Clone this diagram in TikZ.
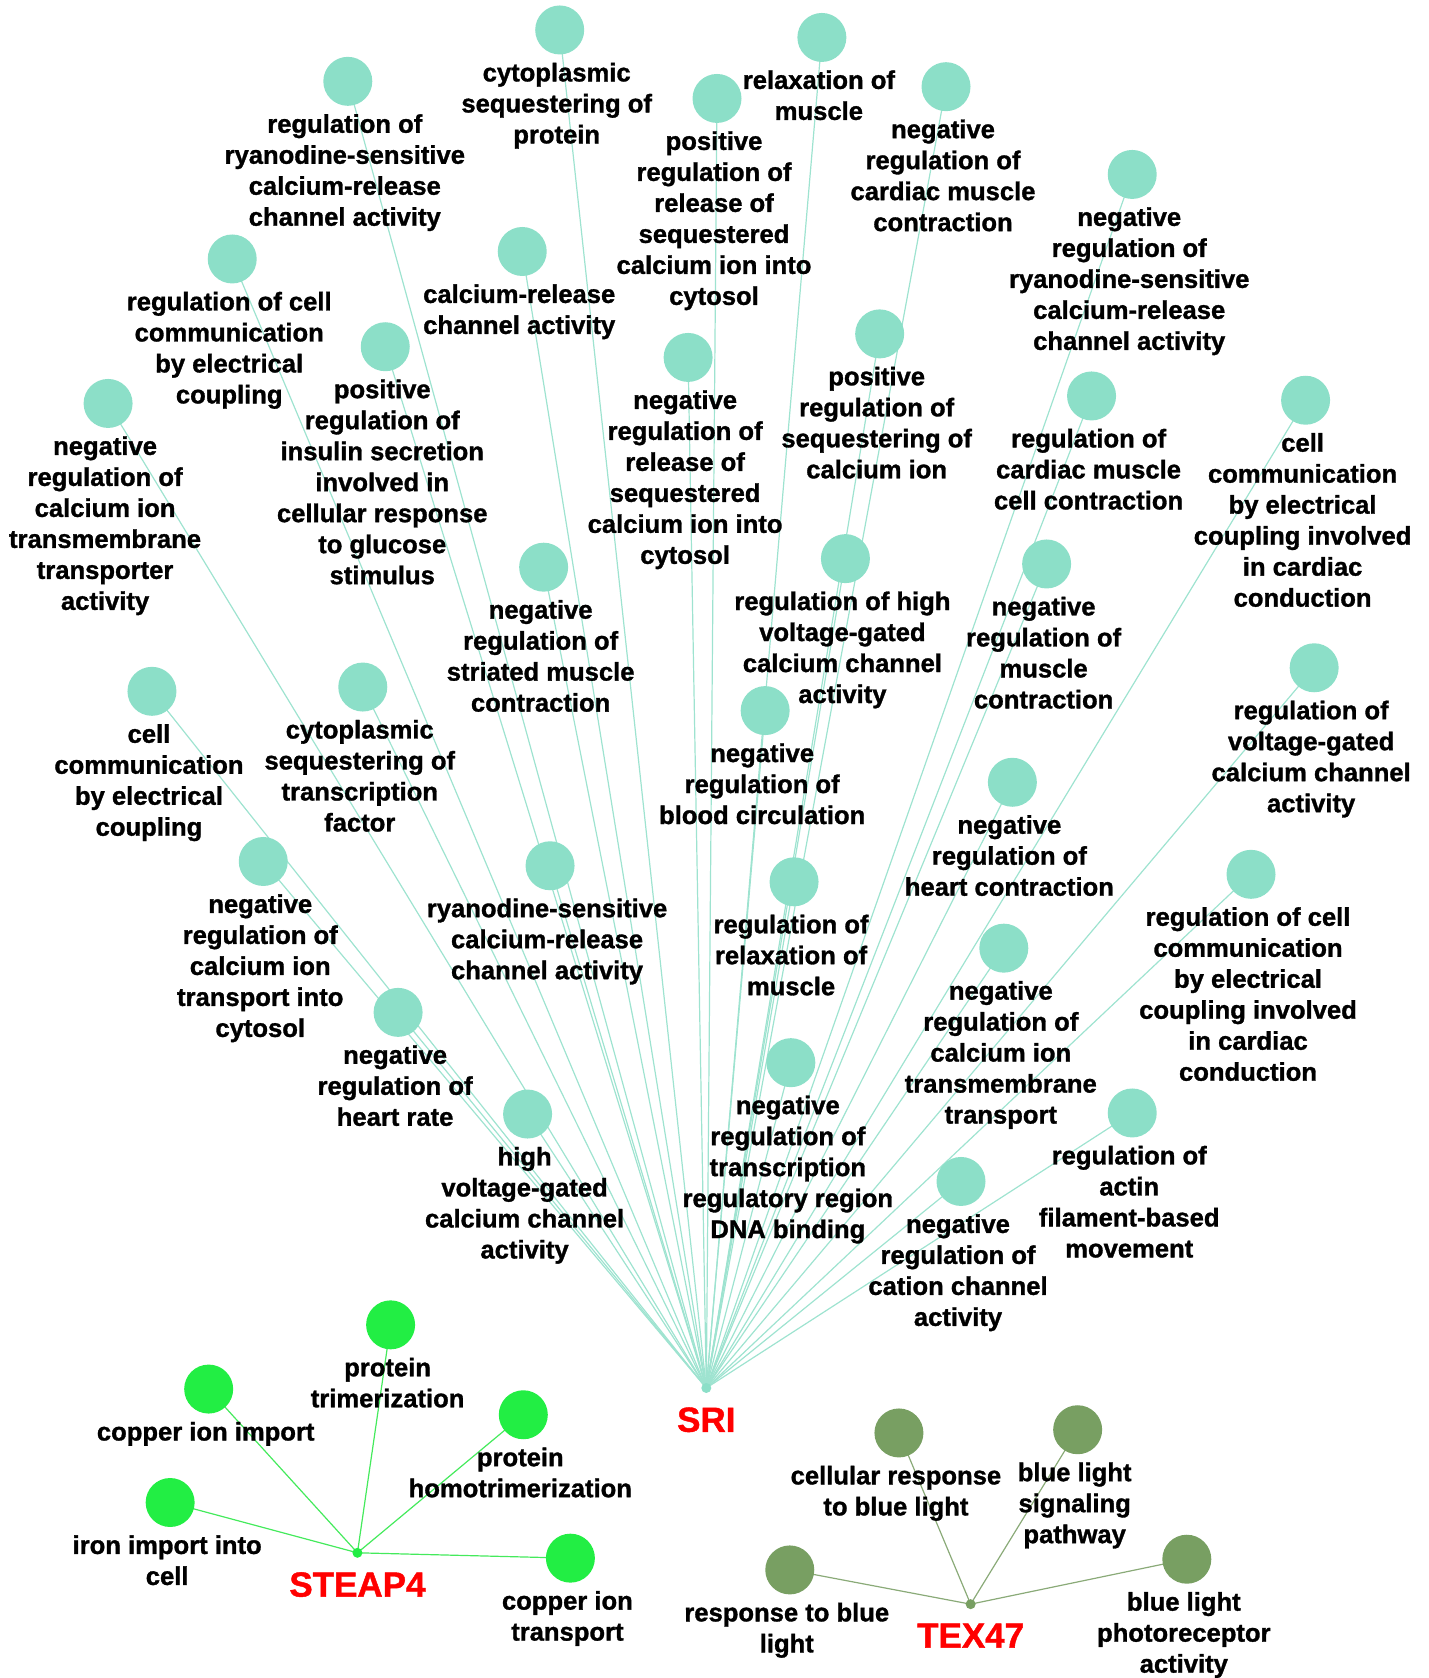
\documentclass[tikz,border=0pt]{standalone}
\usepackage{fontspec}
\setmainfont[BoldFeatures={FakeBold=1.2}]{Liberation Sans}
\usepackage{tikz}
\usetikzlibrary{positioning}
\definecolor{sritone}{HTML}{8CDFC8}
\definecolor{sriedge}{HTML}{9EE3D0}
\definecolor{steaptone}{HTML}{22EE44}
\definecolor{steapedge}{HTML}{44EA5C}
\definecolor{textone}{HTML}{789F62}
\definecolor{texedge}{HTML}{8AAA78}
\pgfdeclarelayer{background}
\pgfsetlayers{background,main}
\tikzstyle{term}=[circle, inner sep=0pt, minimum size=49pt]
\tikzstyle{hub}=[circle, inner sep=0pt, minimum size=10pt]
\tikzstyle{lbl}=[inner sep=0pt, xshift=-3pt, align=center, font=\bfseries\fontsize{25.6}{31}\selectfont]
\tikzstyle{gene}=[inner sep=0pt, text=red, font=\bfseries\fontsize{35}{40}\selectfont]

\begin{document}
\begin{tikzpicture}[x=1.0704pt, y=-1.0704pt]
        \useasboundingbox (0, 0) rectangle (1335, 1568);

        % hubs
        \node [hub, fill=sritone] (sri) at (660, 1297) {};
        \node [gene, below=14pt of sri] (srilbl) {SRI};
        \node [hub, fill=steaptone] (steap) at (334, 1451) {};
        \node [gene, below=14pt of steap] (steaplbl) {STEAP4};
        \node [hub, fill=textone] (tex) at (907, 1499) {};
        \node [gene, below=14pt of tex] (texlbl) {TEX47};

        % SRI terms
        \node [term, fill=sritone] (c1) at (523, 28) {};
        \node [lbl, below=8pt of c1] (t1) {cytoplasmic\\sequestering of\\protein};
        \node [term, fill=sritone] (c2) at (768, 35) {};
        \node [lbl, below=8pt of c2] (t2) {relaxation of\\muscle};
        \node [term, fill=sritone] (c3) at (325, 76) {};
        \node [lbl, below=8pt of c3] (t3) {regulation of\\ryanodine-sensitive\\calcium-release\\channel activity};
        \node [term, fill=sritone] (c4) at (670, 92) {};
        \node [lbl, below=8pt of c4] (t4) {positive\\regulation of\\release of\\sequestered\\calcium ion into\\cytosol};
        \node [term, fill=sritone] (c5) at (884, 81) {};
        \node [lbl, below=8pt of c5] (t5) {negative\\regulation of\\cardiac muscle\\contraction};
        \node [term, fill=sritone] (c6) at (1058, 163) {};
        \node [lbl, below=8pt of c6] (t6) {negative\\regulation of\\ryanodine-sensitive\\calcium-release\\channel activity};
        \node [term, fill=sritone] (c7) at (217, 242) {};
        \node [lbl, below=8pt of c7] (t7) {regulation of cell\\communication\\by electrical\\coupling};
        \node [term, fill=sritone] (c8) at (488, 235) {};
        \node [lbl, below=8pt of c8] (t8) {calcium-release\\channel activity};
        \node [term, fill=sritone] (c9) at (360, 324) {};
        \node [lbl, below=8pt of c9] (t9) {positive\\regulation of\\insulin secretion\\involved in\\cellular response\\to glucose\\stimulus};
        \node [term, fill=sritone] (c10) at (643, 334) {};
        \node [lbl, below=8pt of c10] (t10) {negative\\regulation of\\release of\\sequestered\\calcium ion into\\cytosol};
        \node [term, fill=sritone] (c11) at (822, 312) {};
        \node [lbl, below=8pt of c11] (t11) {positive\\regulation of\\sequestering of\\calcium ion};
        \node [term, fill=sritone] (c12) at (1020, 370) {};
        \node [lbl, below=8pt of c12] (t12) {regulation of\\cardiac muscle\\cell contraction};
        \node [term, fill=sritone] (c13) at (1220, 374) {};
        \node [lbl, below=8pt of c13] (t13) {cell\\communication\\by electrical\\coupling involved\\in cardiac\\conduction};
        \node [term, fill=sritone] (c14) at (101, 377) {};
        \node [lbl, below=8pt of c14] (t14) {negative\\regulation of\\calcium ion\\transmembrane\\transporter\\activity};
        \node [term, fill=sritone] (c15) at (508, 530) {};
        \node [lbl, below=8pt of c15] (t15) {negative\\regulation of\\striated muscle\\contraction};
        \node [term, fill=sritone] (c16) at (790, 522) {};
        \node [lbl, below=8pt of c16] (t16) {regulation of high\\voltage-gated\\calcium channel\\activity};
        \node [term, fill=sritone] (c17) at (978, 527) {};
        \node [lbl, below=8pt of c17] (t17) {negative\\regulation of\\muscle\\contraction};
        \node [term, fill=sritone] (c18) at (142, 646) {};
        \node [lbl, below=8pt of c18] (t18) {cell\\communication\\by electrical\\coupling};
        \node [term, fill=sritone] (c19) at (339, 642) {};
        \node [lbl, below=8pt of c19] (t19) {cytoplasmic\\sequestering of\\transcription\\factor};
        \node [term, fill=sritone] (c20) at (715, 664) {};
        \node [lbl, below=8pt of c20] (t20) {negative\\regulation of\\blood circulation};
        \node [term, fill=sritone] (c21) at (1228, 624) {};
        \node [lbl, below=8pt of c21] (t21) {regulation of\\voltage-gated\\calcium channel\\activity};
        \node [term, fill=sritone] (c22) at (946, 731) {};
        \node [lbl, below=8pt of c22] (t22) {negative\\regulation of\\heart contraction};
        \node [term, fill=sritone] (c23) at (246, 805) {};
        \node [lbl, below=8pt of c23] (t23) {negative\\regulation of\\calcium ion\\transport into\\cytosol};
        \node [term, fill=sritone] (c24) at (514, 809) {};
        \node [lbl, below=8pt of c24] (t24) {ryanodine-sensitive\\calcium-release\\channel activity};
        \node [term, fill=sritone] (c25) at (742, 824) {};
        \node [lbl, below=8pt of c25] (t25) {regulation of\\relaxation of\\muscle};
        \node [term, fill=sritone] (c26) at (1169, 817) {};
        \node [lbl, below=8pt of c26] (t26) {regulation of cell\\communication\\by electrical\\coupling involved\\in cardiac\\conduction};
        \node [term, fill=sritone] (c27) at (938, 886) {};
        \node [lbl, below=8pt of c27] (t27) {negative\\regulation of\\calcium ion\\transmembrane\\transport};
        \node [term, fill=sritone] (c28) at (372, 946) {};
        \node [lbl, below=8pt of c28] (t28) {negative\\regulation of\\heart rate};
        \node [term, fill=sritone] (c29) at (739, 993) {};
        \node [lbl, below=8pt of c29] (t29) {negative\\regulation of\\transcription\\regulatory region\\DNA binding};
        \node [term, fill=sritone] (c30) at (493, 1041) {};
        \node [lbl, below=8pt of c30] (t30) {high\\voltage-gated\\calcium channel\\activity};
        \node [term, fill=sritone] (c31) at (1058, 1040) {};
        \node [lbl, below=8pt of c31] (t31) {regulation of\\actin\\filament-based\\movement};
        \node [term, fill=sritone] (c32) at (898, 1104) {};
        \node [lbl, below=8pt of c32] (t32) {negative\\regulation of\\cation channel\\activity};

        % STEAP4 terms
        \node [term, fill=steaptone] (s1) at (365, 1238) {};
        \node [lbl, below=8pt of s1] (u1) {protein\\trimerization};
        \node [term, fill=steaptone] (s2) at (195, 1298) {};
        \node [lbl, below=8pt of s2] (u2) {copper ion import};
        \node [term, fill=steaptone] (s3) at (489, 1322) {};
        \node [lbl, below=8pt of s3] (u3) {protein\\homotrimerization};
        \node [term, fill=steaptone] (s4) at (159, 1404) {};
        \node [lbl, below=8pt of s4] (u4) {iron import into\\cell};
        \node [term, fill=steaptone] (s5) at (533, 1456) {};
        \node [lbl, below=8pt of s5] (u5) {copper ion\\transport};

        % TEX47 terms
        \node [term, fill=textone] (x1) at (840, 1339) {};
        \node [lbl, below=8pt of x1] (v1) {cellular response\\to blue light};
        \node [term, fill=textone] (x2) at (1007, 1336) {};
        \node [lbl, below=8pt of x2] (v2) {blue light\\signaling\\pathway};
        \node [term, fill=textone] (x3) at (738, 1467) {};
        \node [lbl, below=8pt of x3] (v3) {response to blue\\light};
        \node [term, fill=textone] (x4) at (1109, 1457) {};
        \node [lbl, below=8pt of x4] (v4) {blue light\\photoreceptor\\activity};

        \begin{pgfonlayer}{background}
            \foreach \i in {1,...,32}
                \draw [sriedge, line width=1.2pt] (sri.center) -- (c\i.center);
            \foreach \i in {1,...,5}
                \draw [steapedge, line width=1.2pt] (steap.center) -- (s\i.center);
            \foreach \i in {1,...,4}
                \draw [texedge, line width=1.2pt] (tex.center) -- (x\i.center);
        \end{pgfonlayer}
    \end{tikzpicture}
\end{document}
